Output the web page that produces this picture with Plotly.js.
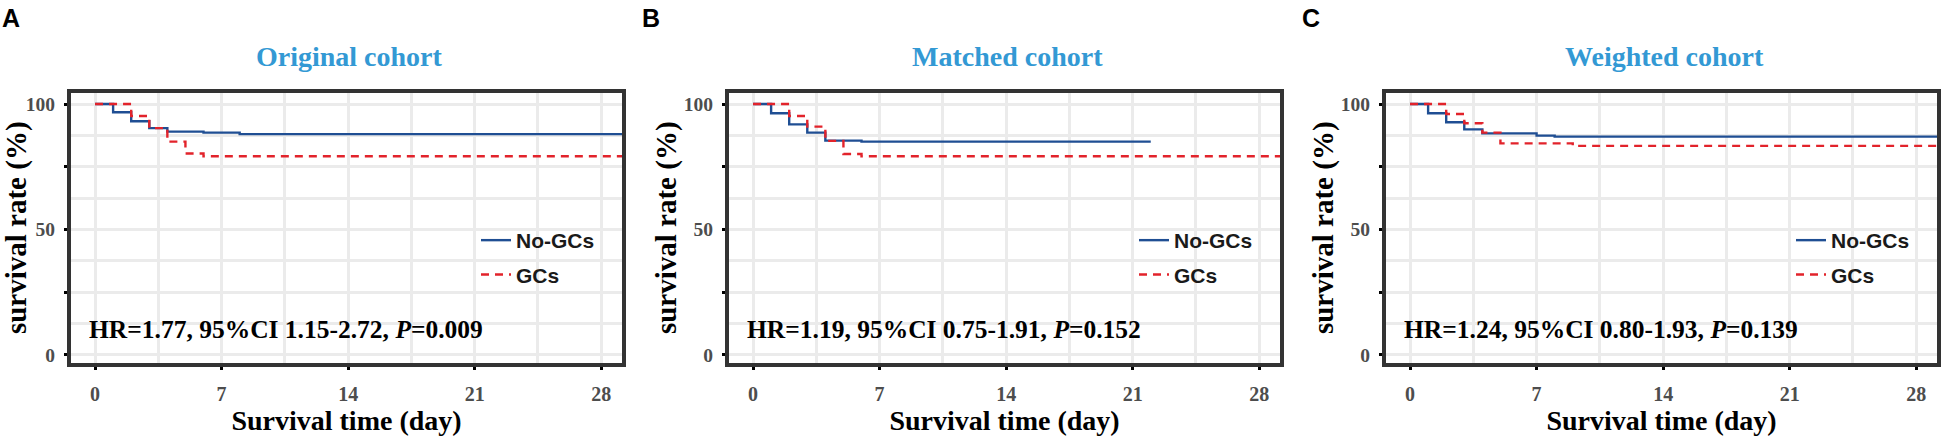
<!DOCTYPE html>
<html>
<head>
<meta charset="utf-8">
<script src="https://cdn.plot.ly/plotly-3.0.1.min.js"></script>
<style>html,body{margin:0;padding:0;background:#fff;}#chart{width:1942px;height:436px;}</style>
</head>
<body>
<div id="chart"></div>
<script>
// ---------------- data ----------------
const panelLetters = ["A", "B", "C"];
const panelTitles = ["Original cohort", "Matched cohort", "Weighted cohort"];
const seriesNames = ["No-GCs", "GCs"];
const hrTexts = [
  "HR=1.77, 95%CI 1.15-2.72, <i>P</i>=0.009",
  "HR=1.19, 95%CI 0.75-1.91, <i>P</i>=0.152",
  "HR=1.24, 95%CI 0.80-1.93, <i>P</i>=0.139"
];
const xTickVals = [0, 7, 14, 21, 28];
const yTickVals = [0, 25, 50, 75, 100];
const yTickText = ["0", "", "50", "", "100"];

// Panel A: Original cohort
const timeA_no = [0, 1, 2, 3, 4, 6, 8, 29.15];
const survA_no = [100, 96.7, 93.1, 90.4, 89.0, 88.6, 88.0, 88.0];
const timeA_gc = [0, 2, 3, 4, 5, 6, 29.15];
const survA_gc = [100, 95.2, 90.4, 85.0, 80.3, 79.2, 79.2];
// Panel B: Matched cohort
const timeB_no = [0, 1, 2, 3, 4, 6, 22];
const survB_no = [100, 96.3, 91.9, 88.6, 85.4, 85.0, 85.0];
const timeB_gc = [0, 2, 3, 4, 5, 6, 29.15];
const survB_gc = [100, 95.2, 91.0, 85.3, 80.1, 79.2, 79.2];
// Panel C: Weighted cohort
const timeC_no = [0, 1, 2, 3, 4, 7, 8, 29.15];
const survC_no = [100, 96.3, 92.7, 89.9, 88.3, 87.4, 87.0, 87.0];
const timeC_gc = [0, 2, 3, 4, 5, 9, 29.15];
const survC_gc = [100, 96.0, 92.3, 88.6, 84.3, 83.3, 83.3];

const panelData = [
  [[timeA_no, survA_no], [timeA_gc, survA_gc]],
  [[timeB_no, survB_no], [timeB_gc, survB_gc]],
  [[timeC_no, survC_no], [timeC_gc, survC_gc]]
];

// ---------------- styling / layout ----------------
const W = 1942, H = 436;
const px = v => v / W;
const py = v => 1 - v / H;
const SERIF = "Liberation Serif, Times New Roman, serif";
const SANS = "Liberation Sans, Arial, sans-serif";
const BLUE = "#1F4E93";
const RED = "#E2232B";
const GRID = "#EBEBEB";

const plotLeft = [71, 729, 1386];
const plotWidth = 551;
const plotTop = 92.5, plotBottom = 363;
const xRange = [-1.33, 29.15];
const yRange = [-3.19, 104.58];

const traces = [];
const layout = {
  width: W, height: H,
  margin: {l: 0, r: 0, t: 0, b: 0},
  paper_bgcolor: "#ffffff",
  plot_bgcolor: "#ffffff",
  showlegend: true,
  annotations: [],
  font: {family: SERIF}
};

for (let p = 0; p < 3; p++) {
  const sfx = p === 0 ? "" : String(p + 1);
  const xa = "x" + sfx, ya = "y" + sfx;
  const lg = "legend" + sfx;
  const styles = [
    {color: BLUE, width: 2.4, shape: "hv"},
    {color: RED, width: 2.4, shape: "hv", dash: "8px,6px"}
  ];
  for (let s = 0; s < 2; s++) {
    traces.push({
      type: "scatter", mode: "lines",
      x: panelData[p][s][0], y: panelData[p][s][1],
      name: seriesNames[s],
      line: styles[s],
      xaxis: xa, yaxis: ya,
      legend: lg,
      legendgroup: "g" + p + "_" + s,
      hoverinfo: "skip"
    });
  }
  const x0 = plotLeft[p], x1 = plotLeft[p] + plotWidth;
  layout["xaxis" + sfx] = {
    domain: [px(x0), px(x1)],
    anchor: ya,
    range: xRange,
    tickmode: "array", tickvals: xTickVals,
    ticks: "outside", ticklen: 3, tickwidth: 3, tickcolor: "#000",
    ticklabelstandoff: 7,
    showline: true, mirror: true, linewidth: 4, linecolor: "#333333",
    showgrid: true, gridcolor: GRID, gridwidth: 3,
    minor: {tickmode: "linear", tick0: 0, dtick: 3.5, showgrid: true, gridcolor: GRID, gridwidth: 3, ticks: ""},
    zeroline: false,
    tickfont: {family: SERIF, size: 20, color: "#4D4D4D", weight: "bold"},
    title: {text: "Survival time (day)", font: {family: SERIF, size: 28, color: "#000", weight: "bold"}, standoff: 14},
    fixedrange: true
  };
  layout["yaxis" + sfx] = {
    domain: [py(plotBottom), py(plotTop)],
    anchor: xa,
    range: yRange,
    tickmode: "array", tickvals: yTickVals, ticktext: yTickText,
    ticks: "outside", ticklen: 3, tickwidth: 3, tickcolor: "#000",
    ticklabelstandoff: 5,
    showline: true, mirror: true, linewidth: 4, linecolor: "#333333",
    showgrid: true, gridcolor: GRID, gridwidth: 3,
    minor: {tickmode: "array", tickvals: [12.5, 37.5, 62.5, 87.5], showgrid: true, gridcolor: GRID, gridwidth: 3, ticks: ""},
    zeroline: false,
    tickfont: {family: SERIF, size: 19.5, color: "#4D4D4D", weight: "bold"},
    title: {text: "survival rate (%)", font: {family: SERIF, size: 29, color: "#000", weight: "bold"}, standoff: 0},
    fixedrange: true
  };
  layout[lg] = {
    x: px(x0 + 405), y: py(220), xanchor: "left", yanchor: "top",
    bgcolor: "rgba(0,0,0,0)", borderwidth: 0,
    font: {family: SANS, size: 21, color: "#1A1A1A", weight: "bold"},
    traceorder: "grouped", tracegroupgap: 4,
    itemclick: false, itemdoubleclick: false
  };
  // panel letter
  layout.annotations.push({
    text: panelLetters[p], xref: "paper", yref: "paper",
    x: px([0, 640, 1300][p]), y: py(18), xanchor: "left", yanchor: "middle",
    showarrow: false, font: {family: SANS, size: 25, color: "#000", weight: "bold"}
  });
  // panel title
  layout.annotations.push({
    text: panelTitles[p], xref: "paper", yref: "paper",
    x: px((x0 + x1) / 2 + 3), y: py(56.5), xanchor: "center", yanchor: "middle",
    showarrow: false, font: {family: SERIF, size: 28, color: "#3399D4", weight: "bold"}
  });
  // HR annotation
  layout.annotations.push({
    text: hrTexts[p], xref: "paper", yref: "paper",
    x: px(x0 + 16), y: py(329), xanchor: "left", yanchor: "middle",
    showarrow: false, font: {family: SERIF, size: 25.5, color: "#000", weight: "bold"}
  });
}

Plotly.newPlot("chart", traces, layout, {staticPlot: true, displayModeBar: false});
</script>
</body>
</html>
